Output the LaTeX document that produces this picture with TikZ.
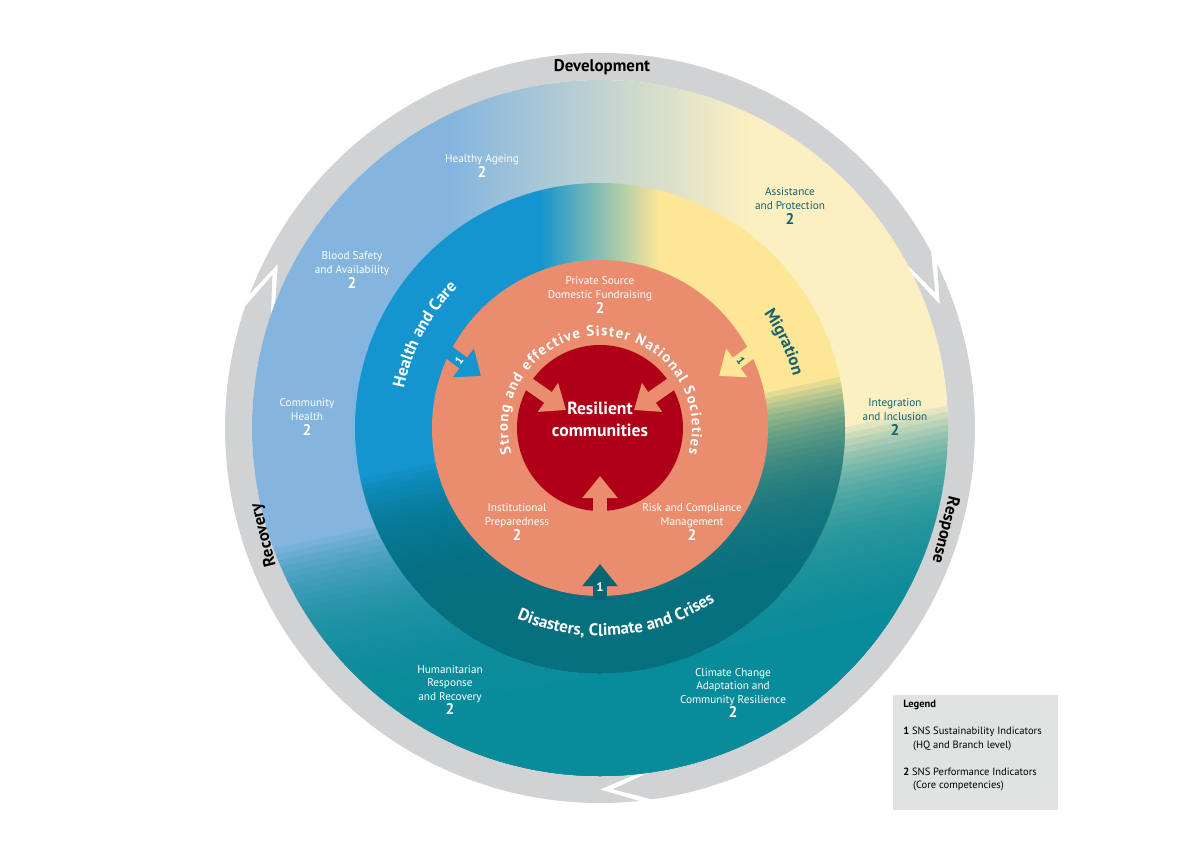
\documentclass[tikz,border=0pt]{standalone}
\usepackage{fontspec}
\setmainfont{PT Sans}
\usetikzlibrary{arrows.meta, decorations.text}

\definecolor{ringgrey}{HTML}{D1D2D3}
\definecolor{outerblue}{HTML}{84B5DF}
\definecolor{outeryellow}{HTML}{FCF0C2}
\definecolor{outerteal}{HTML}{088C9B}
\definecolor{innerblue}{HTML}{1495CF}
\definecolor{inneryellow}{HTML}{FDE796}
\definecolor{innerteal}{HTML}{06707F}
\definecolor{salmon}{HTML}{E98D6E}
\definecolor{coral}{HTML}{B00018}
\definecolor{darkteal}{HTML}{17606F}
\definecolor{legendgrey}{HTML}{E1E2E2}

\tikzset{
  lbl/.style={align=center, font=\fontsize{8}{9.6}\selectfont, text=white, inner sep=0pt},
  dlbl/.style={lbl, text=darkteal},
  ringlbl/.style={font=\bfseries\fontsize{12}{12}\selectfont, inner sep=0pt},
  blockarrow/.style={line width=0.33cm, -{Triangle[width=0.85cm, length=0.55cm]}},
}
\newcommand{\two}{\\[1pt]{\bfseries\fontsize{11}{11}\selectfont 2}}
% stepwise fade: colour, top y, bottom y
\newcommand{\tealfade}[3]{%
  \foreach \i in {1,...,30}{
    \fill[#1, opacity=0.1] (-400,{#2+(#3-#2)*(\i-1)/30}) rectangle (400,-400);
  }
  \fill[#1] (-400,#3) rectangle (400,-400);
}

\begin{document}
\begin{tikzpicture}[x=0.025cm, y=0.025cm]
		\def\rin{348};
		\def\rout{375};
		\def\rmid{361.5};
		\def\rmidring{245};
		\def\rsalmon{168};
		\def\rred{83};
		
		\useasboundingbox (-600,-421) rectangle (600,428);
		
		% grey cycle ring
		\foreach \a/\b in {159/26, 26/-84, -84/-201}{
			\fill[ringgrey] (\a:\rout) arc[start angle=\a, end angle={\b+2}, radius=\rout] -- ({\b-4}:\rmid) -- ({\b+2}:\rin) arc[start angle={\b+2}, end angle=\a, radius=\rin] -- ({\a-6}:\rmid) -- cycle;
		}
		
		% outer coloured disc
		\begin{scope}
			\clip (0,0) circle [radius = \rin];
			\fill[outerblue] (-\rin,-\rin) rectangle (-150,\rin);
			\fill[outeryellow] (150,-\rin) rectangle (\rin,\rin);
			\shade[left color=outerblue, right color=outeryellow] (-150,-\rin) rectangle (150,\rin);
			\begin{scope}[rotate=12]
				\tealfade{outerteal}{-50}{-240}
			\end{scope}
		\end{scope}
		
		% middle ring
		\begin{scope}
			\clip (0,0) circle [radius = \rmidring];
			\fill[innerblue] (-\rmidring,-\rmidring) rectangle (-60,\rmidring);
			\fill[inneryellow] (60,-\rmidring) rectangle (\rmidring,\rmidring);
			\shade[left color=innerblue, right color=inneryellow] (-60,-\rmidring) rectangle (60,\rmidring);
			\begin{scope}[rotate=12]
				\tealfade{innerteal}{0}{-170}
			\end{scope}
		\end{scope}
		
		% centre
		\fill[salmon] (0,0) circle [radius = \rsalmon];
		\fill[coral] (0,0) circle [radius = \rred];
		
		% arrows into the centre
		\begin{scope}[salmon]
			\draw[blockarrow] (0,-84) coordinate (sb) -- (0,-48) coordinate (se);
			\draw[blockarrow] (-74,46) coordinate (lb) -- (-34,18) coordinate (le);
			\draw[blockarrow] (74,46) coordinate (rb) -- (34,18) coordinate (re);
		\end{scope}
		\draw[blockarrow, innerteal!90!black] (0,-172) coordinate (db) -- (0,-136) coordinate (de);
		\draw[blockarrow, innerblue] (-157,80) coordinate (hb) -- (-119,52) coordinate (he);
		\draw[blockarrow, inneryellow] (157,80) coordinate (mb) -- (119,52) coordinate (me);
		\node[lbl, font=\bfseries\fontsize{9}{9}\selectfont] (one1) at (0,-159) {1};
		\node[lbl, font=\bfseries\fontsize{8}{8}\selectfont, rotate=54] (one2) at (-141,67) {1};
		\node[dlbl, font=\bfseries\fontsize{8}{8}\selectfont, rotate=-54] (one3) at (141,67) {1};
		
		% texts along arcs
		\path[decorate, decoration={text along path, text align=fit to path, text color=white,
			text={|\bfseries\fontsize{10.5}{10.5}\selectfont|Strong and effective Sister National Societies}}]
			(196:92) arc[start angle=196, end angle=-16, radius=92];
		\path[decorate, decoration={text along path, text align=center, text color=white,
			text={|\bfseries\fontsize{12}{12}\selectfont|Health and Care}}]
			(182:200) arc[start angle=182, end angle=122, radius=200];
		\path[decorate, decoration={text along path, text align=center, text color=darkteal,
			text={|\bfseries\fontsize{12}{12}\selectfont|Migration}}]
			(55:200) arc[start angle=55, end angle=-5, radius=200];
		\path[decorate, decoration={text along path, text align=center, text color=white,
			text={|\bfseries\fontsize{12}{12}\selectfont|Disasters, Climate and Crises}}]
			(235:208) arc[start angle=235, end angle=315, radius=208];
		
		% cycle labels
		\node[ringlbl] (dev) at (2,361) {Development};
		\node[ringlbl, rotate=104] (rec) at (-336,-107) {Recovery};
		\node[ringlbl, rotate=-104] (res) at (345,-102) {Response};
		
		% indicator labels
		\node[lbl] (ageing) at (-118,262) {Healthy Ageing\two};
		\node[lbl] (blood) at (-248,158) {Blood Safety\\and Availability\two};
		\node[lbl] (comm) at (-293,11) {Community\\Health\two};
		\node[dlbl] (assist) at (190,222) {Assistance\\and Protection\two};
		\node[dlbl] (integr) at (295,11) {Integration\\and Inclusion\two};
		\node[lbl] (private) at (0,133) {Private Source\\Domestic Fundraising\two};
		\node[lbl] (instit) at (-83,-94) {Institutional\\Preparedness\two};
		\node[lbl] (risk) at (92,-94) {Risk and Compliance\\Management\two};
		\node[lbl] (human) at (-150,-262) {Humanitarian\\Response\\and Recovery\two};
		\node[lbl] (climate) at (133,-265) {Climate Change\\Adaptation and\\Community Resilience\two};
		\node[lbl, font=\bfseries\fontsize{12.5}{15.5}\selectfont] (resil) at (0,9) {Resilient\\communities};
		
		% legend
		\fill[legendgrey] (293,-267) rectangle (458,-382);
		\node[anchor=north west, align=left, inner sep=0pt, font=\fontsize{7.5}{9.6}\selectfont] (legend) at (303,-272)
			{\textbf{Legend}\\[9.6pt]
			 \textbf{1} SNS Sustainability Indicators\\
			 \hspace*{7pt}(HQ and Branch level)\\[9.6pt]
			 \textbf{2} SNS Performance Indicators\\
			 \hspace*{7pt}(Core competencies)};
	\end{tikzpicture}
\end{document}
